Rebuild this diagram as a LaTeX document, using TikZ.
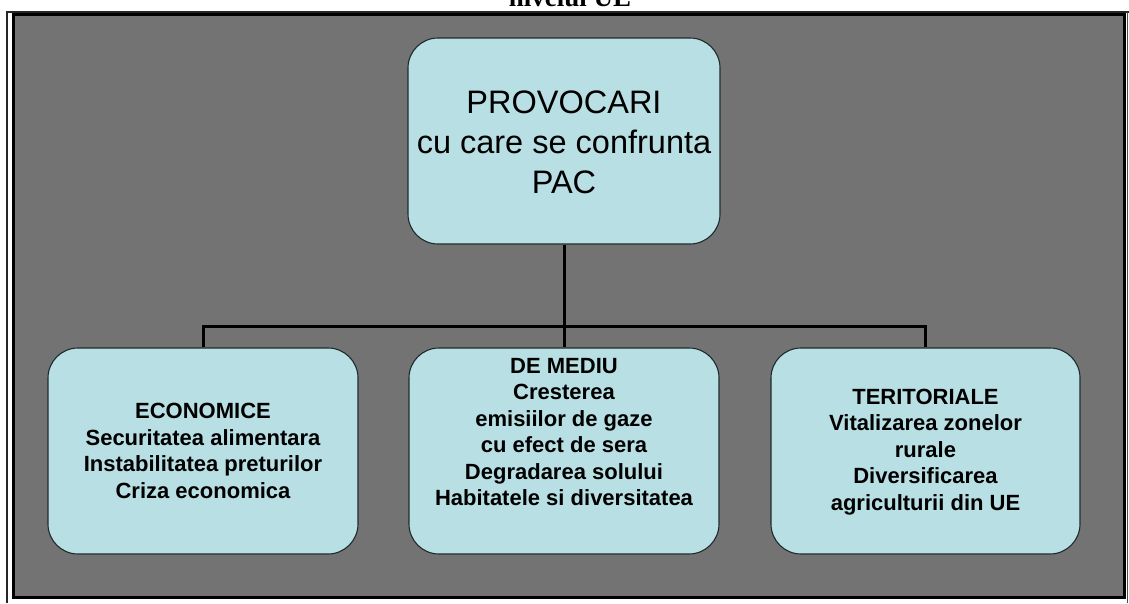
\documentclass[tikz,border=0pt]{standalone}
\usepackage{fontspec}
\setmainfont{Liberation Sans}
\newfontfamily\titleserif{Liberation Serif}
\definecolor{bggray}{HTML}{737373}
\definecolor{boxfill}{HTML}{B8DFE3}
\definecolor{boxline}{HTML}{1E2A2C}
\tikzset{
  pbox/.style={draw=boxline, line width=1.1pt, fill=boxfill, rounded corners=30pt,
    inner sep=0pt, minimum width=310pt, minimum height=206pt},
  toptext/.style={align=center, font=\fontsize{32.5}{40}\selectfont},
  subtext/.style={align=center, font=\fontsize{22}{26.4}\selectfont\bfseries},
  conn/.style={line width=3pt, black}
}
\begin{document}
\begin{tikzpicture}[x=1pt,y=-1pt]
\useasboundingbox (0,0) rectangle (1129,603);
\fill[white] (0,0) rectangle (1129,603);
% title (cut off at the top, as in the reference)
\node[anchor=base, font=\titleserif\bfseries\fontsize{27}{30}\selectfont, inner sep=0pt] (title) at (570,6) {nivelul UE};
% outer frame
\draw[line width=1.6pt, black!85] (7,603) -- (7,12) -- (1129,12);
\draw[line width=1.6pt, black!70] (1127.5,12) -- (1127.5,603);
\fill[bggray] (13,14) rectangle (1125,597);
\draw[line width=3pt, black] (13.5,14.5) rectangle (1124.5,597);
% boxes
\node[pbox, minimum width=312pt] (top) at (564,141) {};
\node[toptext] (toptxt) at (564,142) {PROVOCARI\\cu care se confrunta\\PAC};
\node[pbox] (eco) at (203,451) {};
\node[pbox] (med) at (564,451) {};
\node[pbox, minimum width=309pt] (ter) at (925.5,451) {};
\node[subtext] (ecotxt) at (203,451) {ECONOMICE\\Securitatea alimentara\\Instabilitatea preturilor\\Criza economica};
\node[subtext] (medtxt) at (564,432) {DE MEDIU\\Cresterea\\emisiilor de gaze\\cu efect de sera\\Degradarea solului\\Habitatele si diversitatea};
\node[subtext] (tertxt) at (925.5,452) {TERITORIALE\\Vitalizarea zonelor\\rurale\\Diversificarea\\agriculturii din UE};
% connectors
\coordinate (barL) at (203,326);
\coordinate (barR) at (925.5,326);
\draw[conn] (top.south) -- (med.north);
\draw[conn] (eco.north) -- (barL) -- (barR) -- (ter.north);
\end{tikzpicture}
\end{document}
